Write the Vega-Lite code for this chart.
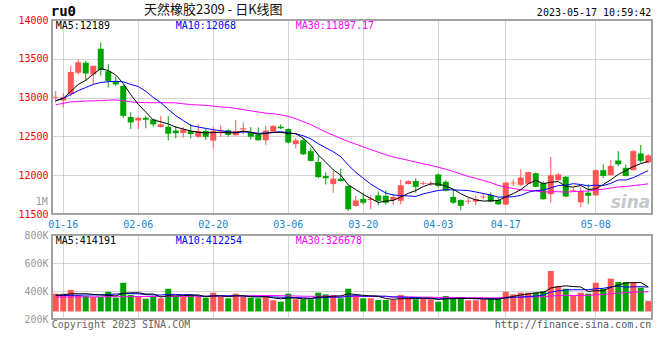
{
"$schema": "https://vega.github.io/schema/vega-lite/v6.json",
"background": "white",
"padding": {"left": 16, "top": 3, "right": 5, "bottom": 5},
"config": {
  "view": {"stroke": "#a0a0a0", "strokeWidth": 2},
  "axis": {"ticks": false, "domain": false, "labelFont": "DejaVu Sans Mono", "labelFontSize": 10, "labelPadding": 4, "labelOverlap": false, "labelBound": false, "labelFlush": false, "gridColor": "#aaaaaa", "gridDash": [1, 1], "gridOpacity": 1, "gridWidth": 1},
  "text": {"font": "DejaVu Sans Mono", "fontSize": 10}
},
"datasets": {"k": [
{"d":"01-13","o":13000,"h":13085,"l":12935,"c":13010,"m5":12960,"m10":12960,"m30":12910,"v":381000,"vm5":370000,"vm10":368000,"vm30":357000},
{"d":"01-16","o":12965,"h":13060,"l":12870,"c":13005,"m5":12990,"m10":12990,"m30":12925,"v":381000,"vm5":372000,"vm10":368000,"vm30":357000},
{"d":"01-17","o":13045,"h":13410,"l":13020,"c":13330,"m5":13080,"m10":13040,"m30":12945,"v":407000,"vm5":380000,"vm10":369000,"vm30":357000},
{"d":"01-18","o":13320,"h":13490,"l":13300,"c":13455,"m5":13170,"m10":13090,"m30":12950,"v":371000,"vm5":380000,"vm10":370000,"vm30":358000},
{"d":"01-19","o":13450,"h":13475,"l":13215,"c":13310,"m5":13222,"m10":13130,"m30":12955,"v":364000,"vm5":381000,"vm10":371000,"vm30":358000},
{"d":"01-20","o":13300,"h":13410,"l":13175,"c":13410,"m5":13302,"m10":13170,"m30":12958,"v":357000,"vm5":376000,"vm10":372000,"vm30":358000},
{"d":"01-30","o":13630,"h":13710,"l":13280,"c":13355,"m5":13372,"m10":13195,"m30":12960,"v":357000,"vm5":371000,"vm10":373000,"vm30":358000},
{"d":"01-31","o":13340,"h":13430,"l":13130,"c":13215,"m5":13349,"m10":13205,"m30":12968,"v":395000,"vm5":369000,"vm10":375000,"vm30":359000},
{"d":"02-01","o":13210,"h":13270,"l":13150,"c":13170,"m5":13292,"m10":13210,"m30":12970,"v":352000,"vm5":365000,"vm10":378000,"vm30":359000},
{"d":"02-02","o":13150,"h":13170,"l":12740,"c":12765,"m5":13183,"m10":13203,"m30":12960,"v":459000,"vm5":384000,"vm10":382000,"vm30":359000},
{"d":"02-03","o":12750,"h":12810,"l":12595,"c":12680,"m5":13037,"m10":13170,"m30":12945,"v":371000,"vm5":387000,"vm10":381000,"vm30":360000},
{"d":"02-06","o":12705,"h":12750,"l":12595,"c":12740,"m5":12914,"m10":13143,"m30":12938,"v":364000,"vm5":388000,"vm10":380000,"vm30":360000},
{"d":"02-07","o":12740,"h":12765,"l":12605,"c":12715,"m5":12814,"m10":13082,"m30":12935,"v":345000,"vm5":378000,"vm10":374000,"vm30":360000},
{"d":"02-08","o":12720,"h":12725,"l":12625,"c":12655,"m5":12711,"m10":13002,"m30":12934,"v":357000,"vm5":379000,"vm10":372000,"vm30":361000},
{"d":"02-09","o":12620,"h":12765,"l":12615,"c":12655,"m5":12689,"m10":12936,"m30":12934,"v":348000,"vm5":357000,"vm10":371000,"vm30":361000},
{"d":"02-10","o":12625,"h":12765,"l":12450,"c":12535,"m5":12660,"m10":12849,"m30":12934,"v":416000,"vm5":366000,"vm10":376000,"vm30":361000},
{"d":"02-13","o":12575,"h":12635,"l":12475,"c":12540,"m5":12620,"m10":12767,"m30":12932,"v":357000,"vm5":365000,"vm10":376000,"vm30":362000},
{"d":"02-14","o":12545,"h":12620,"l":12485,"c":12590,"m5":12595,"m10":12705,"m30":12920,"v":357000,"vm5":367000,"vm10":373000,"vm30":362000},
{"d":"02-15","o":12570,"h":12665,"l":12475,"c":12530,"m5":12570,"m10":12641,"m30":12910,"v":371000,"vm5":370000,"vm10":375000,"vm30":362000},
{"d":"02-16","o":12495,"h":12655,"l":12480,"c":12570,"m5":12553,"m10":12621,"m30":12905,"v":357000,"vm5":372000,"vm10":364000,"vm30":363000},
{"d":"02-17","o":12570,"h":12600,"l":12455,"c":12495,"m5":12545,"m10":12603,"m30":12900,"v":352000,"vm5":359000,"vm10":362000,"vm30":363000},
{"d":"02-20","o":12445,"h":12625,"l":12345,"c":12570,"m5":12551,"m10":12586,"m30":12890,"v":388000,"vm5":365000,"vm10":365000,"vm30":364000},
{"d":"02-21","o":12565,"h":12640,"l":12495,"c":12580,"m5":12549,"m10":12572,"m30":12880,"v":357000,"vm5":365000,"vm10":366000,"vm30":364000},
{"d":"02-22","o":12580,"h":12590,"l":12495,"c":12520,"m5":12547,"m10":12559,"m30":12875,"v":348000,"vm5":360000,"vm10":365000,"vm30":365000},
{"d":"02-23","o":12515,"h":12710,"l":12510,"c":12570,"m5":12547,"m10":12550,"m30":12860,"v":381000,"vm5":365000,"vm10":368000,"vm30":365000},
{"d":"02-24","o":12590,"h":12680,"l":12530,"c":12605,"m5":12569,"m10":12557,"m30":12845,"v":357000,"vm5":366000,"vm10":363000,"vm30":366000},
{"d":"02-27","o":12555,"h":12620,"l":12460,"c":12495,"m5":12554,"m10":12553,"m30":12830,"v":352000,"vm5":359000,"vm10":362000,"vm30":366000},
{"d":"02-28","o":12525,"h":12615,"l":12445,"c":12450,"m5":12528,"m10":12539,"m30":12815,"v":348000,"vm5":357000,"vm10":361000,"vm30":367000},
{"d":"03-01","o":12450,"h":12635,"l":12390,"c":12575,"m5":12539,"m10":12543,"m30":12800,"v":364000,"vm5":360000,"vm10":360000,"vm30":367000},
{"d":"03-02","o":12560,"h":12645,"l":12560,"c":12635,"m5":12552,"m10":12550,"m30":12791,"v":334000,"vm5":351000,"vm10":358000,"vm30":368000},
{"d":"03-03","o":12625,"h":12655,"l":12590,"c":12605,"m5":12552,"m10":12561,"m30":12778,"v":324000,"vm5":344000,"vm10":355000,"vm30":366000},
{"d":"03-06","o":12595,"h":12605,"l":12410,"c":12420,"m5":12537,"m10":12546,"m30":12758,"v":381000,"vm5":350000,"vm10":355000,"vm30":366000},
{"d":"03-07","o":12400,"h":12480,"l":12345,"c":12450,"m5":12537,"m10":12533,"m30":12729,"v":341000,"vm5":349000,"vm10":353000,"vm30":364000},
{"d":"03-08","o":12450,"h":12480,"l":12260,"c":12270,"m5":12476,"m10":12508,"m30":12689,"v":341000,"vm5":344000,"vm10":352000,"vm30":363000},
{"d":"03-09","o":12310,"h":12355,"l":12175,"c":12185,"m5":12386,"m10":12469,"m30":12652,"v":341000,"vm5":346000,"vm10":348000,"vm30":362000},
{"d":"03-10","o":12170,"h":12255,"l":11960,"c":11975,"m5":12260,"m10":12406,"m30":12604,"v":388000,"vm5":358000,"vm10":351000,"vm30":363000},
{"d":"03-13","o":11990,"h":12035,"l":11880,"c":11960,"m5":12168,"m10":12353,"m30":12557,"v":376000,"vm5":357000,"vm10":354000,"vm30":364000},
{"d":"03-14","o":11885,"h":12060,"l":11775,"c":11955,"m5":12069,"m10":12303,"m30":12515,"v":371000,"vm5":363000,"vm10":356000,"vm30":363000},
{"d":"03-15","o":11955,"h":12085,"l":11920,"c":11925,"m5":12000,"m10":12238,"m30":12474,"v":348000,"vm5":365000,"vm10":355000,"vm30":363000},
{"d":"03-16","o":11860,"h":11870,"l":11540,"c":11560,"m5":11875,"m10":12131,"m30":12434,"v":416000,"vm5":380000,"vm10":363000,"vm30":362000},
{"d":"03-17","o":11605,"h":11735,"l":11595,"c":11675,"m5":11815,"m10":12038,"m30":12400,"v":364000,"vm5":375000,"vm10":367000,"vm30":361000},
{"d":"03-20","o":11695,"h":11775,"l":11625,"c":11645,"m5":11752,"m10":11960,"m30":12364,"v":348000,"vm5":369000,"vm10":363000,"vm30":361000},
{"d":"03-21","o":11680,"h":11745,"l":11560,"c":11695,"m5":11700,"m10":11885,"m30":12330,"v":348000,"vm5":365000,"vm10":364000,"vm30":361000},
{"d":"03-22","o":11740,"h":11790,"l":11610,"c":11670,"m5":11649,"m10":11825,"m30":12297,"v":336000,"vm5":362000,"vm10":364000,"vm30":360000},
{"d":"03-23","o":11735,"h":11805,"l":11625,"c":11645,"m5":11666,"m10":11771,"m30":12263,"v":336000,"vm5":346000,"vm10":363000,"vm30":360000},
{"d":"03-24","o":11680,"h":11755,"l":11615,"c":11720,"m5":11675,"m10":11745,"m30":12236,"v":336000,"vm5":341000,"vm10":358000,"vm30":357000},
{"d":"03-27","o":11670,"h":11940,"l":11625,"c":11870,"m5":11720,"m10":11736,"m30":12214,"v":371000,"vm5":345000,"vm10":357000,"vm30":358000},
{"d":"03-28","o":11885,"h":11935,"l":11880,"c":11925,"m5":11766,"m10":11733,"m30":12192,"v":348000,"vm5":345000,"vm10":355000,"vm30":357000},
{"d":"03-29","o":11925,"h":11960,"l":11775,"c":11850,"m5":11802,"m10":11726,"m30":12169,"v":341000,"vm5":346000,"vm10":354000,"vm30":356000},
{"d":"03-30","o":11890,"h":11925,"l":11870,"c":11900,"m5":11853,"m10":11760,"m30":12147,"v":348000,"vm5":349000,"vm10":348000,"vm30":356000},
{"d":"03-31","o":11885,"h":11925,"l":11860,"c":11895,"m5":11888,"m10":11782,"m30":12127,"v":341000,"vm5":350000,"vm10":345000,"vm30":356000},
{"d":"04-03","o":12010,"h":12020,"l":11840,"c":11860,"m5":11886,"m10":11803,"m30":12103,"v":324000,"vm5":340000,"vm10":343000,"vm30":354000},
{"d":"04-04","o":11915,"h":11935,"l":11790,"c":11800,"m5":11861,"m10":11814,"m30":12077,"v":364000,"vm5":344000,"vm10":345000,"vm30":354000},
{"d":"04-06","o":11720,"h":11820,"l":11630,"c":11645,"m5":11820,"m10":11811,"m30":12048,"v":352000,"vm5":346000,"vm10":346000,"vm30":354000},
{"d":"04-07","o":11680,"h":11690,"l":11545,"c":11605,"m5":11761,"m10":11807,"m30":12016,"v":357000,"vm5":348000,"vm10":348000,"vm30":353000},
{"d":"04-10","o":11660,"h":11710,"l":11630,"c":11670,"m5":11716,"m10":11802,"m30":11984,"v":334000,"vm5":346000,"vm10":348000,"vm30":352000},
{"d":"04-11","o":11660,"h":11735,"l":11615,"c":11690,"m5":11682,"m10":11784,"m30":11958,"v":334000,"vm5":348000,"vm10":344000,"vm30":352000},
{"d":"04-12","o":11715,"h":11760,"l":11690,"c":11725,"m5":11667,"m10":11764,"m30":11933,"v":341000,"vm5":344000,"vm10":344000,"vm30":352000},
{"d":"04-13","o":11745,"h":11780,"l":11650,"c":11660,"m5":11670,"m10":11745,"m30":11903,"v":348000,"vm5":343000,"vm10":344000,"vm30":351000},
{"d":"04-14","o":11680,"h":11710,"l":11615,"c":11625,"m5":11674,"m10":11718,"m30":11869,"v":348000,"vm5":341000,"vm10":344000,"vm30":352000},
{"d":"04-17","o":11620,"h":11910,"l":11615,"c":11905,"m5":11721,"m10":11719,"m30":11846,"v":395000,"vm5":353000,"vm10":350000,"vm30":354000},
{"d":"04-18","o":11895,"h":11945,"l":11860,"c":11905,"m5":11764,"m10":11723,"m30":11829,"v":376000,"vm5":362000,"vm10":355000,"vm30":354000},
{"d":"04-19","o":11875,"h":12075,"l":11860,"c":11970,"m5":11813,"m10":11740,"m30":11813,"v":388000,"vm5":371000,"vm10":357000,"vm30":355000},
{"d":"04-20","o":11890,"h":12045,"l":11885,"c":12040,"m5":11889,"m10":11780,"m30":11805,"v":388000,"vm5":379000,"vm10":361000,"vm30":357000},
{"d":"04-21","o":12025,"h":12035,"l":11845,"c":11850,"m5":11934,"m10":11804,"m30":11794,"v":388000,"vm5":387000,"vm10":364000,"vm30":358000},
{"d":"04-24","o":11900,"h":11920,"l":11685,"c":11690,"m5":11891,"m10":11806,"m30":11784,"v":400000,"vm5":388000,"vm10":371000,"vm30":359000},
{"d":"04-25","o":11755,"h":12235,"l":11645,"c":12000,"m5":11910,"m10":11837,"m30":11786,"v":543000,"vm5":421000,"vm10":392000,"vm30":364000},
{"d":"04-26","o":11935,"h":12030,"l":11930,"c":12010,"m5":11918,"m10":11866,"m30":11788,"v":436000,"vm5":431000,"vm10":401000,"vm30":367000},
{"d":"04-27","o":11980,"h":11990,"l":11720,"c":11725,"m5":11855,"m10":11872,"m30":11781,"v":416000,"vm5":437000,"vm10":408000,"vm30":369000},
{"d":"04-28","o":11800,"h":11840,"l":11780,"c":11810,"m5":11847,"m10":11891,"m30":11789,"v":364000,"vm5":432000,"vm10":409000,"vm30":367000},
{"d":"05-04","o":11650,"h":11840,"l":11590,"c":11795,"m5":11868,"m10":11880,"m30":11793,"v":388000,"vm5":429000,"vm10":409000,"vm30":368000},
{"d":"05-05","o":11775,"h":11885,"l":11625,"c":11735,"m5":11815,"m10":11863,"m30":11796,"v":381000,"vm5":397000,"vm10":409000,"vm30":369000},
{"d":"05-08","o":11740,"h":12075,"l":11735,"c":12065,"m5":11826,"m10":11872,"m30":11809,"v":459000,"vm5":402000,"vm10":416000,"vm30":373000},
{"d":"05-09","o":12065,"h":12140,"l":11965,"c":11990,"m5":11879,"m10":11867,"m30":11819,"v":416000,"vm5":402000,"vm10":419000,"vm30":375000},
{"d":"05-10","o":12000,"h":12195,"l":11995,"c":12120,"m5":11941,"m10":11894,"m30":11835,"v":488000,"vm5":426000,"vm10":429000,"vm30":380000},
{"d":"05-11","o":12190,"h":12310,"l":12115,"c":12140,"m5":12010,"m10":11939,"m30":11849,"v":464000,"vm5":442000,"vm10":436000,"vm30":385000},
{"d":"05-12","o":12095,"h":12140,"l":11985,"c":11990,"m5":12061,"m10":11938,"m30":11853,"v":464000,"vm5":458000,"vm10":428000,"vm30":388000},
{"d":"05-15","o":12065,"h":12330,"l":12060,"c":12310,"m5":12110,"m10":11968,"m30":11866,"v":464000,"vm5":459000,"vm10":430000,"vm30":392000},
{"d":"05-16","o":12280,"h":12390,"l":12160,"c":12185,"m5":12149,"m10":12014,"m30":11877,"v":424000,"vm5":461000,"vm10":431000,"vm30":394000},
{"d":"05-17","o":12165,"h":12270,"l":12150,"c":12255,"m5":12176,"m10":12059,"m30":11889,"v":329000,"vm5":429000,"vm10":428000,"vm30":394000}
]},
"spacing": 21,
"bounds": "flush",
"vconcat": [
{
  "width": 600, "height": 194,
  "data": {"name": "k"},
  "layer": [
    {"mark": {"type": "rule", "strokeWidth": 1},
     "encoding": {
       "x": {"field": "d", "type": "ordinal", "scale": {"domain": ["01-13","01-16","01-17","01-18","01-19","01-20","01-30","01-31","02-01","02-02","02-03","02-06","02-07","02-08","02-09","02-10","02-13","02-14","02-15","02-16","02-17","02-20","02-21","02-22","02-23","02-24","02-27","02-28","03-01","03-02","03-03","03-06","03-07","03-08","03-09","03-10","03-13","03-14","03-15","03-16","03-17","03-20","03-21","03-22","03-23","03-24","03-27","03-28","03-29","03-30","03-31","04-03","04-04","04-06","04-07","04-10","04-11","04-12","04-13","04-14","04-17","04-18","04-19","04-20","04-21","04-24","04-25","04-26","04-27","04-28","05-04","05-05","05-08","05-09","05-10","05-11","05-12","05-15","05-16","05-17"], "paddingInner": 0, "paddingOuter": 0},
             "axis": {"title": null, "values": ["01-16","02-06","02-20","03-06","03-20","04-03","04-17","05-08"], "labelColor": "#1a86d0", "labelAngle": 0, "labelPadding": 5, "labelOverlap": false, "grid": true, "bandPosition": 0.5}},
       "y": {"field": "l", "type": "quantitative", "scale": {"domain": [11500, 14000], "zero": false, "nice": false},
             "axis": {"title": null, "values": [11500, 12000, 12500, 13000, 13500, 14000], "tickCount": 6, "format": "d", "labelColor": "#ff0000", "labelOverlap": false, "labelSeparation": 0, "grid": true}},
       "y2": {"field": "h"},
       "color": {"condition": {"test": "datum.c >= datum.o", "value": "#ff5555"}, "value": "#00a400"}
     }},
    {"mark": {"type": "bar", "size": 6},
     "encoding": {
       "x": {"field": "d", "type": "ordinal"},
       "y": {"field": "o", "type": "quantitative"},
       "y2": {"field": "c"},
       "color": {"condition": {"test": "datum.c >= datum.o", "value": "#ff5555"}, "value": "#00a400"}
     }},
    {"mark": {"type": "line", "color": "#ff00ff", "strokeWidth": 1},
     "encoding": {"x": {"field": "d", "type": "ordinal"}, "y": {"field": "m30", "type": "quantitative"}}},
    {"mark": {"type": "line", "color": "#0000ff", "strokeWidth": 1},
     "encoding": {"x": {"field": "d", "type": "ordinal"}, "y": {"field": "m10", "type": "quantitative"}}},
    {"mark": {"type": "line", "color": "#000000", "strokeWidth": 1},
     "encoding": {"x": {"field": "d", "type": "ordinal"}, "y": {"field": "m5", "type": "quantitative"}}},
    {"data": {"values": [{}]},
     "mark": {"type": "text", "align": "left", "baseline": "top", "dy": 1, "color": "#000000"},
     "encoding": {"x": {"datum": "01-13", "type": "ordinal"}, "y": {"datum": 14000, "type": "quantitative"}, "text": {"value": "MA5:12189"}}},
    {"data": {"values": [{}]},
     "mark": {"type": "text", "align": "left", "baseline": "top", "dy": 1, "color": "#0000ff"},
     "encoding": {"x": {"datum": "02-13", "type": "ordinal"}, "y": {"datum": 14000, "type": "quantitative"}, "text": {"value": "MA10:12068"}}},
    {"data": {"values": [{}]},
     "mark": {"type": "text", "align": "left", "baseline": "top", "dy": 1, "color": "#ff00ff"},
     "encoding": {"x": {"datum": "03-07", "type": "ordinal"}, "y": {"datum": 14000, "type": "quantitative"}, "text": {"value": "MA30:11897.17"}}},
    {"data": {"values": [{}]},
     "mark": {"type": "text", "align": "left", "baseline": "middle", "dx": -5, "dy": -8, "fontSize": 14, "fontWeight": "bold", "color": "#000000"},
     "encoding": {"x": {"datum": "01-13", "type": "ordinal"}, "y": {"datum": 14000, "type": "quantitative"}, "text": {"value": "ru0"}}},
    {"data": {"values": [{}]},
     "mark": {"type": "text", "align": "center", "baseline": "middle", "dy": -10, "font": "Noto Sans CJK SC", "fontSize": 13, "color": "#111111"},
     "encoding": {"x": {"datum": "02-20", "type": "ordinal"}, "y": {"datum": 14000, "type": "quantitative"}, "text": {"value": "天然橡胶2309 - 日K线图"}}},
    {"data": {"values": [{}]},
     "mark": {"type": "text", "align": "right", "baseline": "middle", "dx": 3, "dy": -7, "color": "#000000"},
     "encoding": {"x": {"datum": "05-17", "type": "ordinal"}, "y": {"datum": 14000, "type": "quantitative"}, "text": {"value": "2023-05-17 10:59:42"}}},
    {"data": {"values": [{}]},
     "mark": {"type": "text", "align": "right", "baseline": "middle", "dx": -8, "color": "#999999"},
     "encoding": {"x": {"datum": "01-13", "type": "ordinal"}, "y": {"datum": 11650, "type": "quantitative"}, "text": {"value": "1M"}}},
    {"data": {"values": [{}]},
     "mark": {"type": "text", "align": "right", "baseline": "bottom", "dx": 2, "dy": -2, "font": "DejaVu Sans", "fontSize": 17, "fontWeight": "bold", "fontStyle": "italic", "color": "#c8c8c8"},
     "encoding": {"x": {"datum": "05-17", "type": "ordinal"}, "y": {"datum": 11500, "type": "quantitative"}, "text": {"value": "sina"}}}
  ]
},
{
  "width": 600, "height": 84,
  "data": {"name": "k"},
  "layer": [
    {"mark": {"type": "bar", "size": 6},
     "encoding": {
       "x": {"field": "d", "type": "ordinal", "scale": {"domain": ["01-13","01-16","01-17","01-18","01-19","01-20","01-30","01-31","02-01","02-02","02-03","02-06","02-07","02-08","02-09","02-10","02-13","02-14","02-15","02-16","02-17","02-20","02-21","02-22","02-23","02-24","02-27","02-28","03-01","03-02","03-03","03-06","03-07","03-08","03-09","03-10","03-13","03-14","03-15","03-16","03-17","03-20","03-21","03-22","03-23","03-24","03-27","03-28","03-29","03-30","03-31","04-03","04-04","04-06","04-07","04-10","04-11","04-12","04-13","04-14","04-17","04-18","04-19","04-20","04-21","04-24","04-25","04-26","04-27","04-28","05-04","05-05","05-08","05-09","05-10","05-11","05-12","05-15","05-16","05-17"], "paddingInner": 0, "paddingOuter": 0},
             "axis": {"title": null, "values": ["01-16","02-06","02-20","03-06","03-20","04-03","04-17","05-08"], "labels": false, "grid": true, "bandPosition": 0.5}},
       "y": {"field": "v", "type": "quantitative", "scale": {"domain": [200000, 800000], "zero": false, "nice": false},
             "axis": {"title": null, "values": [200000, 400000, 600000, 800000], "tickCount": 4, "labelExpr": "format(datum.value / 1000, 'd') + 'K'", "labelColor": "#999999", "labelOverlap": false, "labelSeparation": 0, "grid": true}},
       "y2": {"datum": 254000},
       "color": {"condition": {"test": "datum.c >= datum.o", "value": "#ff5555"}, "value": "#00a400"}
     }},
    {"mark": {"type": "line", "color": "#ff00ff", "strokeWidth": 1},
     "encoding": {"x": {"field": "d", "type": "ordinal"}, "y": {"field": "vm30", "type": "quantitative"}}},
    {"mark": {"type": "line", "color": "#0000ff", "strokeWidth": 1},
     "encoding": {"x": {"field": "d", "type": "ordinal"}, "y": {"field": "vm10", "type": "quantitative"}}},
    {"mark": {"type": "line", "color": "#000000", "strokeWidth": 1},
     "encoding": {"x": {"field": "d", "type": "ordinal"}, "y": {"field": "vm5", "type": "quantitative"}}},
    {"data": {"values": [{}]},
     "mark": {"type": "text", "align": "left", "baseline": "top", "dy": 1, "color": "#000000"},
     "encoding": {"x": {"datum": "01-13", "type": "ordinal"}, "y": {"datum": 800000, "type": "quantitative"}, "text": {"value": "MA5:414191"}}},
    {"data": {"values": [{}]},
     "mark": {"type": "text", "align": "left", "baseline": "top", "dy": 1, "color": "#0000ff"},
     "encoding": {"x": {"datum": "02-13", "type": "ordinal"}, "y": {"datum": 800000, "type": "quantitative"}, "text": {"value": "MA10:412254"}}},
    {"data": {"values": [{}]},
     "mark": {"type": "text", "align": "left", "baseline": "top", "dy": 1, "color": "#ff00ff"},
     "encoding": {"x": {"datum": "03-07", "type": "ordinal"}, "y": {"datum": 800000, "type": "quantitative"}, "text": {"value": "MA30:326678"}}},
    {"data": {"values": [{}]},
     "mark": {"type": "text", "align": "left", "baseline": "top", "dx": -4, "dy": 1, "color": "#666666"},
     "encoding": {"x": {"datum": "01-13", "type": "ordinal"}, "y": {"datum": 200000, "type": "quantitative"}, "text": {"value": "Copyright 2023 SINA.COM"}}},
    {"data": {"values": [{}]},
     "mark": {"type": "text", "align": "right", "baseline": "top", "dx": 3, "dy": 1, "color": "#555555"},
     "encoding": {"x": {"datum": "05-17", "type": "ordinal"}, "y": {"datum": 200000, "type": "quantitative"}, "text": {"value": "http://finance.sina.com.cn"}}}
  ]
}
]
}
